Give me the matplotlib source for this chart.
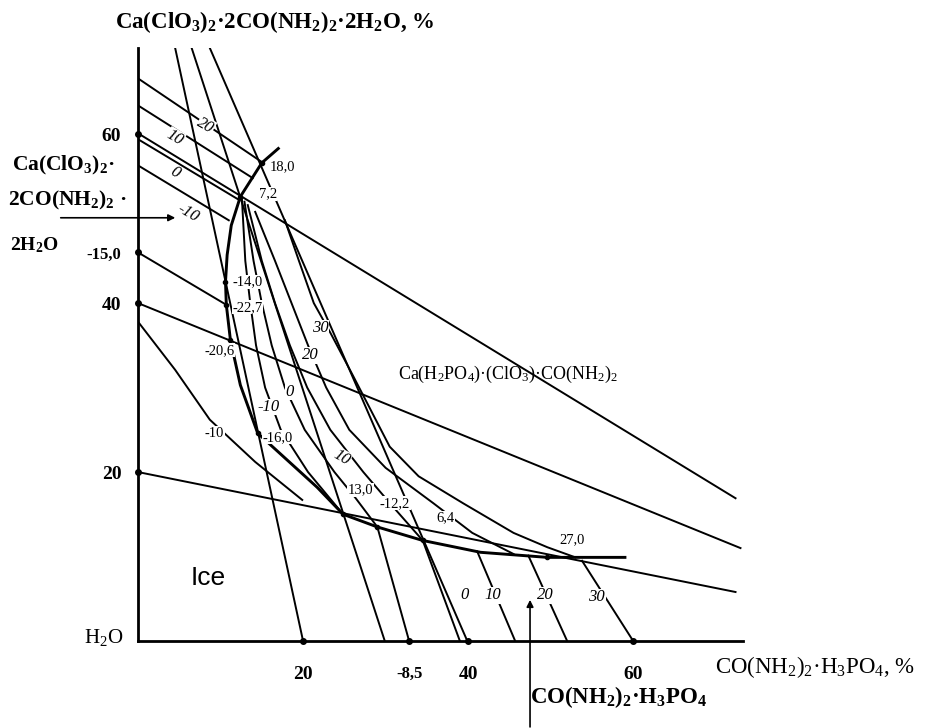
import matplotlib
matplotlib.use("Agg")
import matplotlib.pyplot as plt

plt.rcParams['font.family'] = ['Liberation Serif', 'DejaVu Serif']
plt.rcParams['mathtext.default'] = 'regular'

# x = CO(NH2)2·H3PO4, %   y = Ca(ClO3)2·2CO(NH2)2·2H2O, %
# lines starting on the left axis
iso_a = [(0, 66.6), (15.0, 56.7)]
iso_b = [(0, 63.4), (13.9, 54.8)]
iso_c = [(0, 59.4), (12.1, 52.3)]
iso_d = [(0, 56.3), (11.0, 49.8)]
iso_e = [(0, 46.0), (10.7, 39.8)]
ice_m10 = [(0, 37.8), (4.5, 32.1), (8.7, 26.2), (14.2, 21.2), (19.9, 16.7)]

# long rays
ray_1 = [(0, 60.1), (72.4, 16.9)]
ray_2 = [(0, 40.0), (73.0, 11.0)]
ray_3 = [(0, 20.0), (72.4, 5.8)]
ray_4 = [(4.5, 70.2), (20.0, 0)]
ray_5 = [(6.5, 70.2), (29.9, 0)]
ray_6 = [(8.7, 70.2), (39.9, 0)]

# crystallization boundaries
bound_top = [(17.0, 58.3), (15.0, 56.6), (12.4, 52.6)]
bound_left = [(12.4, 52.6), (11.3, 49.2), (10.8, 45.7), (10.6, 42.5), (10.7, 39.8),
              (11.2, 35.6), (12.4, 30.3), (14.5, 24.6), (18.1, 21.4), (21.7, 18.2),
              (24.85, 15.0)]
bound_bottom = [(24.85, 15.0), (29.0, 13.5), (34.5, 11.9), (41.5, 10.5), (49.6, 9.9),
                (59.0, 9.9)]
bound_85 = [(32.85, 0), (29.0, 13.5)]

# isotherms in the CO(NH2)2·H3PO4 field
iso_x0 = [(39.0, 0), (34.5, 11.9)]
iso_x10 = [(45.7, 0), (41.1, 10.6)]
iso_x20 = [(52.0, 0), (47.3, 10.1)]
iso_x30 = [(60.0, 0), (53.8, 9.5)]

# isotherms in the Ca(H2PO4)(ClO3)·CO(NH2)2 field
fan_m10 = [(12.6, 52.2), (13.0, 45.0), (13.6, 40.0), (14.3, 35.0), (15.4, 30.0),
           (17.3, 25.0), (20.6, 20.0), (24.85, 15.0)]
fan_0 = [(12.9, 52.0), (14.0, 45.0), (15.0, 40.0), (16.2, 35.0), (17.8, 30.0),
         (20.2, 25.0), (23.8, 20.0), (26.3, 17.0), (29.0, 13.5)]
fan_10 = [(13.3, 51.6), (15.0, 45.0), (16.6, 40.0), (18.4, 35.0), (20.5, 30.0),
          (23.3, 25.0), (27.3, 20.0), (30.8, 16.0), (34.5, 11.9)]
fan_20 = [(14.2, 50.8), (16.6, 45.0), (18.6, 40.0), (20.6, 35.0), (22.8, 30.0),
          (25.6, 25.0), (30.0, 20.5), (35.8, 16.3), (40.5, 12.8), (45.5, 10.3)]
fan_30 = [(17.8, 49.8), (19.5, 45.0), (21.3, 40.0), (23.3, 36.5), (26.0, 31.5),
          (30.5, 23.0), (34.0, 19.5), (39.4, 16.3), (45.5, 12.8), (49.6, 11.1),
          (53.0, 9.9)]

thin_lines = [iso_a, iso_b, iso_c, iso_d, iso_e, ice_m10, ray_1, ray_2, ray_3,
              ray_4, ray_5, ray_6, bound_85, iso_x0, iso_x10, iso_x20, iso_x30,
              fan_m10, fan_0, fan_10, fan_20, fan_30]
thick_lines = [bound_top, bound_left, bound_bottom]

points = [(15.0, 56.6), (12.4, 52.6), (10.6, 42.5), (10.7, 39.8), (11.2, 35.6),
          (14.5, 24.6), (24.85, 15.0), (29.0, 13.5), (34.5, 11.9), (49.6, 9.9)]

# temperature labels (text, x, y)
temp_labels = [("18,0", 15.9, 56.1), ("7,2", 14.6, 52.9), ("-14,0", 11.4, 42.5),
               ("-22,7", 11.5, 39.5), ("-20,6", 8.1, 34.4), ("-16,0", 15.1, 24.1),
               ("-10", 8.1, 24.6), ("13,0", 25.4, 17.9), ("-12,2", 29.3, 16.3),
               ("6,4", 36.2, 14.6), ("27,0", 51.0, 12.0)]
iso_labels = [("20", 8.2, 61.0, -30), ("10", 4.5, 59.6, -30), ("0", 4.5, 55.4, -30),
              ("-10", 6.0, 50.7, -30), ("-10", 15.8, 27.7, 0), ("0", 18.4, 29.5, 0),
              ("10", 24.7, 21.7, -30), ("20", 20.85, 33.8, 0), ("30", 22.1, 37.0, 0),
              ("0", 39.6, 5.4, 0), ("10", 43.0, 5.4, 0), ("20", 49.3, 5.4, 0),
              ("30", 55.6, 5.2, 0)]

x_ticks = [20, 32.85, 40, 60]
x_tick_labels = ["20", "-8,5", "40", "60"]
y_ticks = [20, 40, 46, 60]
y_tick_labels = ["20", "40", "-15,0", "60"]

fig = plt.figure(figsize=(9.25, 7.28), dpi=100)
ax = fig.add_axes([0.1492, 0.1195, 0.654, 0.8146])

for line in thin_lines:
    xs, ys = zip(*line)
    ax.plot(xs, ys, color='black', lw=1.4)
for line in thick_lines:
    xs, ys = zip(*line)
    ax.plot(xs, ys, color='black', lw=2.1)

px, py = zip(*points)
ax.plot(px, py, 'o', color='black', ms=3)
ax.plot(x_ticks, [0] * len(x_ticks), 'o', color='black', ms=4, clip_on=False)
ax.plot([0] * len(y_ticks), y_ticks, 'o', color='black', ms=4, clip_on=False)

for txt, x, y in temp_labels:
    ax.text(x, y, txt, fontsize=10.5, va='center', ha='left',
            bbox=dict(facecolor='white', edgecolor='none', pad=0.3))
for txt, x, y, rot in iso_labels:
    ax.text(x, y, txt, fontsize=12, style='italic', va='center', ha='center',
            rotation=rot, bbox=dict(facecolor='white', edgecolor='none', pad=0.3))

ax.text(8.5, 7.5, "Ice", fontsize=19, family='Liberation Sans', ha='center', va='center')
ax.text(31.5, 31.5, "Ca(H$_2$PO$_4$)·(ClO$_3$)·CO(NH$_2$)$_2$", fontsize=13, va='center')

ax.set_xlim(0, 73.3)
ax.set_ylim(0, 70.2)
for s in ['top', 'right']:
    ax.spines[s].set_visible(False)
for s in ['left', 'bottom']:
    ax.spines[s].set_linewidth(2)

ax.set_xticks(x_ticks, x_tick_labels)
ax.set_yticks(y_ticks, y_tick_labels)
ax.tick_params(axis='x', length=0, pad=18, labelsize=14)
ax.tick_params(axis='y', length=0, pad=12, labelsize=14)
for lbl in ax.get_xticklabels() + ax.get_yticklabels():
    lbl.set_fontweight('bold')
    if lbl.get_text() in ("-8,5", "-15,0"):
        lbl.set_fontsize(12)

fig.text(0.1243, 0.970, "Ca(ClO$_3$)$_2$·2CO(NH$_2$)$_2$·2H$_2$O, %", fontsize=16.5,
         fontweight='bold', va='center')
fig.text(0.773, 0.0838, "CO(NH$_2$)$_2$·H$_3$PO$_4$, %", fontsize=16.5, va='center')
fig.text(0.573, 0.0426, "CO(NH$_2$)$_2$·H$_3$PO$_4$", fontsize=16.5, fontweight='bold',
         va='center')
fig.text(0.133, 0.125, "H$_2$O", fontsize=15, va='center', ha='right')
fig.text(0.013, 0.773, "Ca(ClO$_3$)$_2$·", fontsize=15.5, fontweight='bold', va='center')
fig.text(0.0086, 0.725, "2CO(NH$_2$)$_2$ ·", fontsize=15.5, fontweight='bold', va='center')
fig.text(0.011, 0.6635, "2H$_2$O", fontsize=14, fontweight='bold', va='center')

ax.annotate('', xy=(4.85, 50.1), xytext=(-9.7, 50.1), annotation_clip=False,
            arrowprops=dict(arrowstyle='-|>', color='black', lw=1.2))
ax.annotate('', xy=(47.5, 5.2), xytext=(47.5, -10.5), annotation_clip=False,
            arrowprops=dict(arrowstyle='-|>', color='black', lw=1.2))

fig.savefig("out.png", dpi=100)
